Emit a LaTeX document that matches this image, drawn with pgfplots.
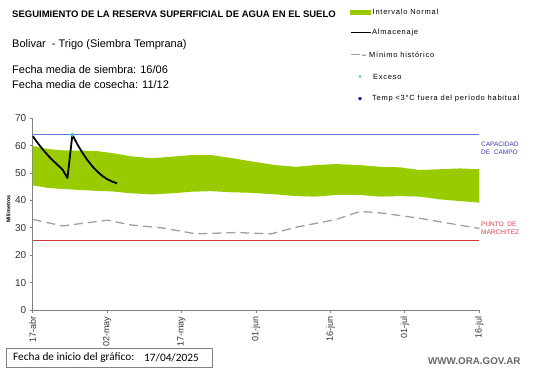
\documentclass[border=0pt]{standalone}
\usepackage{pgfplots}
\pgfplotsset{compat=1.18}
\usepackage{fontspec}
\setmainfont{Liberation Sans}
\newfontfamily\legfont[LetterSpace=10]{Liberation Sans}
\newfontfamily\calibri{Carlito}
\definecolor{bandgreen}{HTML}{99CC00}
\definecolor{capblue}{HTML}{5B7FD6}
\definecolor{capdark}{HTML}{3A3AA8}
\definecolor{pmred}{HTML}{D03A3A}
\definecolor{pmtext}{HTML}{E03A4A}
\definecolor{mingray}{HTML}{A0A0A0}
\definecolor{exceso}{HTML}{3CC0E8}
\definecolor{tempblue}{HTML}{1A1A9A}
\definecolor{axgray}{HTML}{808080}
% band outline: upper edge forward, lower edge backward
\pgfplotstableread{
day val
0 59.9
3 58.8
6 58.3
10 58.2
13 58.0
16 57.3
20 56.1
24 55.4
28 56.0
32 56.6
36 56.6
40 55.5
44 54.3
49 52.9
53 52.3
57 52.9
61 53.3
66 52.9
70 52.3
74 52.1
78 51.1
82 51.4
86 51.7
90 51.4
90 39.2
86 39.8
82 40.4
78 41.4
74 41.6
70 41.4
66 42.0
61 42.0
57 41.4
53 41.6
49 42.2
44 42.8
40 43.0
36 43.4
32 43.2
28 42.6
24 42.2
20 42.6
16 43.3
13 43.5
10 43.8
6 44.2
3 44.6
0 45.5
}\bandtable
\pgfplotstableread{
day val
0 63.5
1 61.0
2 58.7
3 56.6
4 54.7
5 53.0
6 51.3
7 48.2
8 64.0
9 60.5
10 57.5
11 54.8
12 52.5
13 50.6
14 49.0
15 47.8
16 46.9
17 46.3
}\almtable
\pgfplotstableread{
day val
0 33.1
6 30.7
15 32.8
20 31.0
26 30.0
33 27.8
41 28.3
48 27.8
53 30.2
61 33.0
66 36.0
70 35.5
78 33.5
86 31.0
90 29.8
}\mintable
\begin{document}
\begin{tikzpicture}
\path[use as bounding box] (0,0) rectangle (541pt,-368pt);
\begin{axis}[
  at={(32.7pt,-310pt)}, anchor=south west,
  width=446.6pt, height=191.7pt, scale only axis,
  xmin=0, xmax=90, ymin=0, ymax=70,
  axis x line*=bottom, axis y line*=left,
  axis line style={draw=axgray, line width=1pt},
  xtick={0,15,30,45,60,75,90},
  xticklabels={17-abr,02-may,17-may,01-jun,16-jun,01-jul,16-jul},
  ytick={0,10,20,30,40,50,60,70},
  tick align=outside,
  major tick length=3pt,
  every tick/.style={draw=axgray, line width=0.8pt},
  /pgf/number format/assume math mode=true,
  x tick label style={rotate=90, anchor=east, font=\fontsize{9}{10}\selectfont, text=black!80},
  y tick label style={font=\fontsize{10}{11}\selectfont, text=black!80},
]
\addplot[fill=bandgreen, draw=none] table[x=day, y=val] {\bandtable} -- cycle;
\addplot[capblue, line width=0.9pt] coordinates {(0,64) (90,64)};
\addplot[pmred, line width=0.9pt] coordinates {(0,25.4) (90,25.4)};
\addplot[mingray, line width=1.3pt, dash pattern=on 9pt off 5pt] table[x=day, y=val] {\mintable};
\addplot[black, line width=1.8pt, line join=round] table[x=day, y=val] {\almtable};
\addplot[only marks, mark=*, mark size=1.8pt, color=exceso] coordinates {(8,64)};
\end{axis}
% titles
\node[anchor=west, inner sep=0pt, font=\bfseries\fontsize{9.5}{10}\selectfont] at (12pt,-14pt) {SEGUIMIENTO DE LA RESERVA SUPERFICIAL DE AGUA EN EL SUELO};
\node[anchor=west, inner sep=0pt, font=\fontsize{11}{13}\selectfont] at (12pt,-45pt) {Bolivar\ \ - Trigo (Siembra Temprana)};
\node[anchor=west, inner sep=0pt, font=\fontsize{11}{13}\selectfont] at (12pt,-69.5pt) {Fecha media de siembra: 16/06};
\node[anchor=west, inner sep=0pt, font=\fontsize{11}{13}\selectfont] at (12pt,-84.5pt) {Fecha media de cosecha: 11/12};
% legend
\fill[bandgreen] (350pt,-10pt) rectangle (371pt,-14.5pt);
\node[anchor=west, inner sep=0pt, font=\legfont\fontsize{7.5}{8}\selectfont] at (372.5pt,-12pt) {Intervalo Normal};
\draw[black, line width=1.4pt] (350.7pt,-32.5pt) -- (371pt,-32.5pt);
\node[anchor=west, inner sep=0pt, font=\legfont\fontsize{7.5}{8}\selectfont] at (372pt,-33pt) {Almacenaje};
\draw[mingray, line width=1.2pt] (350.7pt,-54.5pt) -- (360pt,-54.5pt);
\node[anchor=west, inner sep=0pt, font=\legfont\fontsize{7.5}{8}\selectfont] at (362pt,-54.5pt) {– Mínimo histórico};
\fill[exceso] (360pt,-76.5pt) circle (1.4pt);
\node[anchor=west, inner sep=0pt, font=\legfont\fontsize{7.5}{8}\selectfont] at (373pt,-76.5pt) {Exceso};
\fill[tempblue] (360pt,-96.5pt) -- (362pt,-98.5pt) -- (360pt,-100.5pt) -- (358pt,-98.5pt) -- cycle;
\node[anchor=west, inner sep=0pt, font=\legfont\fontsize{7.5}{8}\selectfont] at (372pt,-98.5pt) {Temp <3°C fuera del período habitual};
% axis labels
\node[rotate=90, font=\bfseries\fontsize{5.5}{6}\selectfont] at (8.5pt,-209pt) {Milímetros};
\node[anchor=west, inner sep=0pt, align=left, text=capdark, font=\fontsize{6.5}{8.5}\selectfont] at (481pt,-148.5pt) {CAPACIDAD\\DE\ \ CAMPO};
\node[anchor=west, inner sep=0pt, align=left, text=pmtext, font=\fontsize{6.5}{8.5}\selectfont] at (481pt,-228.5pt) {PUNTO\ \ DE\\MARCHITEZ};
% bottom box
\draw[draw=gray, line width=0.8pt] (6pt,-348.3pt) rectangle (212pt,-367.5pt);
\node[anchor=west, inner sep=0pt, font=\calibri\fontsize{11.3}{13}\selectfont] at (13pt,-358pt) {Fecha de inicio del gráfico:};
\node[anchor=west, inner sep=0pt, font=\calibri\fontsize{11.3}{13}\selectfont] at (144pt,-358pt) {17/04/2025};
\node[anchor=west, inner sep=0pt, text=black!60, font=\bfseries\fontsize{9.8}{11}\selectfont] at (428pt,-361pt) {WWW.ORA.GOV.AR};
\end{tikzpicture}
\end{document}
